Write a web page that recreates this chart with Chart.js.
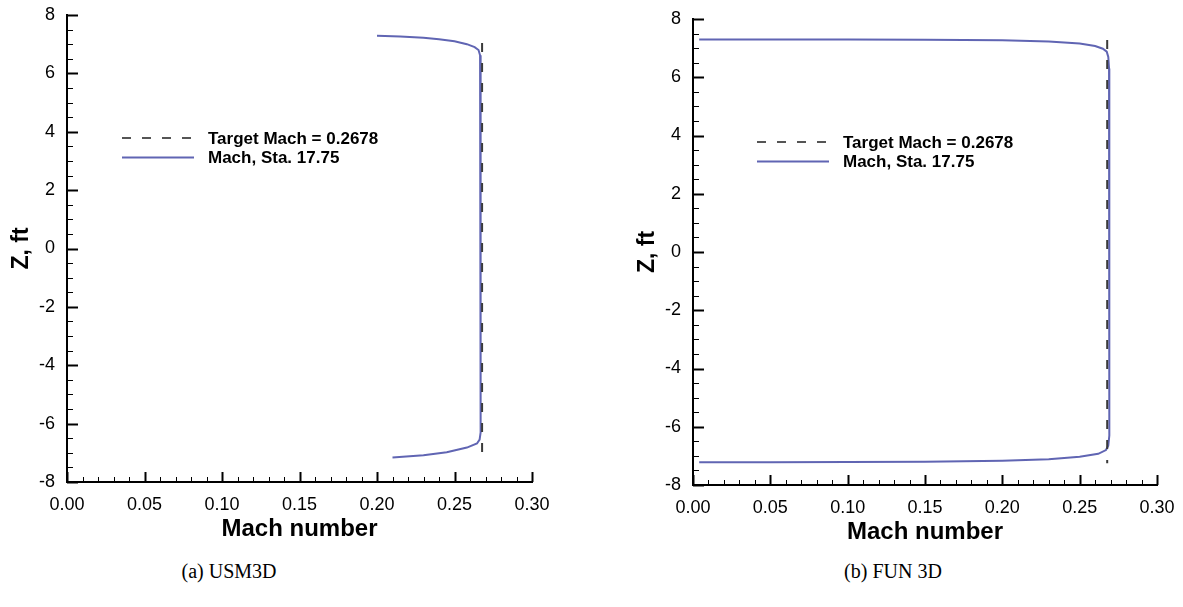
<!DOCTYPE html>
<html>
<head>
<meta charset="utf-8">
<script src="https://cdn.jsdelivr.net/npm/chart.js@4"></script>
<style>
  body { margin: 0; background: #fff; width: 1183px; height: 607px; position: relative; overflow: hidden; }
  canvas { position: absolute; top: 0; }
  .cap { position: absolute; top: 560px; transform: translateX(-50%); white-space: nowrap;
         font-family: "Liberation Serif", "Times New Roman", serif; font-size: 20px; color: #000; }
</style>
</head>
<body>
<canvas id="usm3d" width="562" height="552" style="left:0px"></canvas>
<canvas id="fun3d" width="561" height="555" style="left:626px"></canvas>
<div class="cap" style="left:229px">(a) USM3D</div>
<div class="cap" style="left:893px">(b) FUN 3D</div>
<script>
// Survey at station 17.75: Mach number vs. height Z (ft)
const targetMach = 0.2678;
const targetLabel = 'Target Mach = 0.2678';
const surveyLabel = 'Mach, Sta. 17.75';

// USM3D profile
const usm3dMach = [0.200, 0.215, 0.230, 0.240, 0.250, 0.258, 0.263, 0.2655, 0.2665, 0.2668, 0.2669, 0.2670,
                   0.2669, 0.2667, 0.2662, 0.2645, 0.258, 0.245, 0.230, 0.210];
const usm3dZ    = [7.29, 7.26, 7.22, 7.17, 7.10, 7.00, 6.90, 6.80, 6.62, 6.30, 5.00, 0.00,
                   -5.00, -6.30, -6.55, -6.68, -6.82, -6.98, -7.08, -7.16];
const usm3dTargetZ = [7.04, -7.27];

// FUN3D profile
const fun3dMach = [0.004, 0.050, 0.100, 0.150, 0.200, 0.230, 0.250, 0.260, 0.265, 0.2675, 0.2685, 0.2690, 0.2692, 0.2693,
                   0.2692, 0.2690, 0.2685, 0.2670, 0.2620, 0.2500, 0.2300, 0.2000, 0.1500, 0.1000, 0.0500, 0.0040];
const fun3dZ    = [7.30, 7.30, 7.30, 7.29, 7.27, 7.23, 7.16, 7.07, 6.98, 6.88, 6.70, 6.30, 5.00, 0.00,
                   -5.00, -6.30, -6.65, -6.80, -6.93, -7.03, -7.12, -7.17, -7.20, -7.21, -7.22, -7.22];
const fun3dTargetZ = [7.28, -7.25];

// Axis ranges and tick steps
const xRange = [0, 0.30], xMajor = 0.05, xMinor = 0.01;
const yRange = [-8, 8], yMajor = 2, yMinor = 0.5;

const FONT = '"Liberation Sans", Arial, Helvetica, sans-serif';
const LINE_BLUE = '#6065b3';
const DASH_GRAY = '#3a3a3a';

// Tick marks drawn inward from the axis lines, with minor ticks between majors
const insideTicks = {
  id: 'insideTicks',
  afterDraw(chart) {
    const { ctx, chartArea } = chart;
    const xs = chart.scales.x, ys = chart.scales.y;
    ctx.save();
    ctx.strokeStyle = '#000';
    const nx = Math.round((xRange[1] - xRange[0]) / xMinor);
    const perX = Math.round(xMajor / xMinor);
    for (let i = 0; i <= nx; i++) {
      const px = Math.round(xs.getPixelForValue(xRange[0] + i * xMinor)) + 0.5;
      const major = i % perX === 0;
      ctx.lineWidth = major ? 2 : 1;
      ctx.beginPath();
      ctx.moveTo(px, chartArea.bottom);
      ctx.lineTo(px, chartArea.bottom - (major ? 10 : 5));
      ctx.stroke();
    }
    const ny = Math.round((yRange[1] - yRange[0]) / yMinor);
    const perY = Math.round(yMajor / yMinor);
    for (let i = 0; i <= ny; i++) {
      const py = Math.round(ys.getPixelForValue(yRange[0] + i * yMinor)) + 0.5;
      const major = i % perY === 0;
      ctx.lineWidth = major ? 2 : 1;
      ctx.beginPath();
      ctx.moveTo(chartArea.left, py);
      ctx.lineTo(chartArea.left + (major ? 11 : 6), py);
      ctx.stroke();
    }
    ctx.restore();
  }
};

// Legend placed inside the plot area
const insetLegend = {
  id: 'insetLegend',
  afterDraw(chart, args, opts) {
    const { ctx } = chart;
    ctx.save();
    ctx.font = 'bold 17px ' + FONT;
    ctx.textBaseline = 'middle';
    ctx.fillStyle = '#000';
    chart.data.datasets.forEach((ds, i) => {
      const y = opts.y + i * opts.rowGap;
      ctx.strokeStyle = ds.legendColor || ds.borderColor;
      ctx.lineWidth = ds.borderWidth;
      ctx.setLineDash(ds.borderDash || []);
      ctx.beginPath();
      ctx.moveTo(opts.x, y);
      ctx.lineTo(opts.x + opts.sample, y);
      ctx.stroke();
      ctx.setLineDash([]);
      ctx.fillText(ds.label, opts.x + opts.sample + opts.textGap, y + 1);
    });
    ctx.restore();
  }
};

function pairs(xs, ys) { return xs.map((x, i) => ({ x, y: ys[i] })); }

function makeChart(id, mach, z, targetZ, padTop, legendPos) {
  return new Chart(document.getElementById(id), {
    type: 'scatter',
    data: {
      datasets: [
        { label: targetLabel, data: pairs([targetMach, targetMach], targetZ), showLine: true,
          borderColor: DASH_GRAY, legendColor: '#555', borderWidth: 2, borderDash: [9, 11], pointRadius: 0 },
        { label: surveyLabel, data: pairs(mach, z), showLine: true,
          borderColor: LINE_BLUE, borderWidth: 2, pointRadius: 0, tension: 0 }
      ]
    },
    options: {
      responsive: false,
      animation: false,
      devicePixelRatio: 1,
      events: [],
      layout: { padding: { top: padTop, left: 0, right: 30, bottom: 0 } },
      plugins: {
        legend: { display: false },
        tooltip: { enabled: false },
        insetLegend: legendPos
      },
      scales: {
        x: {
          type: 'linear', min: xRange[0], max: xRange[1],
          grid: { display: false, drawTicks: false },
          border: { display: true, color: '#000', width: 2 },
          ticks: { stepSize: xMajor, callback: v => v.toFixed(2), color: '#000', padding: 12,
                   maxRotation: 0, autoSkip: false, font: { family: FONT, size: 18 } },
          title: { display: true, text: 'Mach number', color: '#000',
                   font: { family: FONT, size: 24, weight: 'bold' }, padding: { top: 0, bottom: 8 } },
          afterFit(s) { s.height = 70; s.paddingLeft = 0; s.paddingRight = 0; }
        },
        y: {
          type: 'linear', min: yRange[0], max: yRange[1],
          grid: { display: false, drawTicks: false },
          border: { display: true, color: '#000', width: 2 },
          ticks: { stepSize: yMajor, color: '#000', padding: 12, font: { family: FONT, size: 18 } },
          title: { display: true, text: 'Z, ft', color: '#000',
                   font: { family: FONT, size: 23, weight: 'bold' }, padding: { top: 8, bottom: 0 } },
          afterFit(s) { s.width = 67; s.paddingTop = 0; s.paddingBottom = 0; }
        }
      }
    },
    plugins: [insideTicks, insetLegend]
  });
}

makeChart('usm3d', usm3dMach, usm3dZ, usm3dTargetZ, 15, { x: 122, y: 138, rowGap: 19.5, sample: 72, textGap: 14 });
makeChart('fun3d', fun3dMach, fun3dZ, fun3dTargetZ, 19, { x: 131, y: 142, rowGap: 19.5, sample: 72, textGap: 14 });
</script>
</body>
</html>
